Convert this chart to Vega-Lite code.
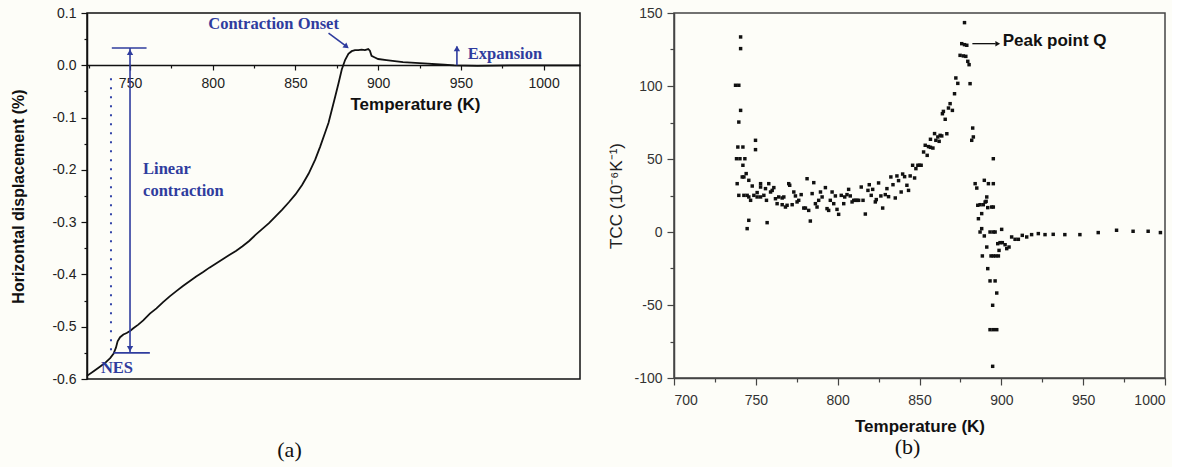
{
  "$schema": "https://vega.github.io/schema/vega-lite/v6.json",
  "background": "#fdfdf8",
  "padding": {"left": 10, "top": 5, "right": 5, "bottom": 5},
  "bounds": "flush",
  "spacing": 94,
  "config": {"font": "Liberation Sans", "view": {"stroke": null}},
  "datasets": {
    "curve": [
      {"T":724,"V":-0.594},{"T":728,"V":-0.585},{"T":732,"V":-0.576},{"T":735,"V":-0.569},{"T":738,"V":-0.56},{"T":740,"V":-0.552},{"T":741.5,"V":-0.54},{"T":742.5,"V":-0.528},{"T":744,"V":-0.52},{"T":746,"V":-0.515},{"T":748,"V":-0.512},{"T":750,"V":-0.508},{"T":752,"V":-0.503},{"T":755,"V":-0.496},{"T":758,"V":-0.488},{"T":762,"V":-0.475},{"T":766,"V":-0.465},{"T":770,"V":-0.453},{"T":774,"V":-0.442},{"T":778,"V":-0.432},{"T":782,"V":-0.422},{"T":786,"V":-0.413},{"T":790,"V":-0.404},{"T":794,"V":-0.396},{"T":798,"V":-0.387},{"T":802,"V":-0.379},{"T":806,"V":-0.371},{"T":810,"V":-0.363},{"T":814,"V":-0.355},{"T":818,"V":-0.346},{"T":822,"V":-0.336},{"T":826,"V":-0.324},{"T":830,"V":-0.313},{"T":834,"V":-0.302},{"T":838,"V":-0.289},{"T":842,"V":-0.276},{"T":846,"V":-0.262},{"T":850,"V":-0.247},{"T":854,"V":-0.229},{"T":858,"V":-0.207},{"T":862,"V":-0.18},{"T":865,"V":-0.155},{"T":868,"V":-0.128},{"T":870,"V":-0.11},{"T":872,"V":-0.085},{"T":874,"V":-0.06},{"T":876,"V":-0.035},{"T":878,"V":-0.008},{"T":880,"V":0.01},{"T":882,"V":0.022},{"T":884,"V":0.027},{"T":886,"V":0.029},{"T":888,"V":0.029},{"T":890,"V":0.03},{"T":892,"V":0.029},{"T":894,"V":0.031},{"T":895,"V":0.028},{"T":896,"V":0.018},{"T":898,"V":0.015},{"T":900,"V":0.012},{"T":905,"V":0.01},{"T":910,"V":0.008},{"T":915,"V":0.006},{"T":920,"V":0.005},{"T":925,"V":0.004},{"T":930,"V":0.003},{"T":935,"V":0.002},{"T":940,"V":0.001},{"T":946,"V":0.0},{"T":960,"V":-0.001},{"T":980,"V":0.0},{"T":1000,"V":0.0},{"T":1022,"V":0.0}
    ],
    "tcc": [
      {"T":740.7,"V":133.6},{"T":740.7,"V":125.6},{"T":737.6,"V":100.5},{"T":739.6,"V":100.5},{"T":740.7,"V":83.3},{"T":739.6,"V":75.3},{"T":749.8,"V":62.8},{"T":749.8,"V":56.4},{"T":739.0,"V":58.2},{"T":742.1,"V":58.2},{"T":738.2,"V":50.2},{"T":740.3,"V":50.2},{"T":743.3,"V":50.2},{"T":742.1,"V":45.7},{"T":744.1,"V":40.0},{"T":741.7,"V":37.7},{"T":742.7,"V":37.7},{"T":738.6,"V":33.1},{"T":745.7,"V":35.4},{"T":747.8,"V":31.5},{"T":752.9,"V":33.1},{"T":752.9,"V":30.8},{"T":755.9,"V":29.7},{"T":757.9,"V":33.1},{"T":761.0,"V":30.4},{"T":739.6,"V":25.1},{"T":742.7,"V":25.1},{"T":744.7,"V":25.1},{"T":745.7,"V":24.0},{"T":746.8,"V":21.7},{"T":748.8,"V":25.1},{"T":750.8,"V":27.0},{"T":750.8,"V":24.0},{"T":752.9,"V":24.0},{"T":754.9,"V":25.1},{"T":756.5,"V":21.7},{"T":759.0,"V":27.4},{"T":760.0,"V":28.5},{"T":762.0,"V":22.8},{"T":763.0,"V":19.4},{"T":764.0,"V":24.0},{"T":766.1,"V":23.3},{"T":767.1,"V":24.0},{"T":766.1,"V":18.7},{"T":768.1,"V":17.1},{"T":769.1,"V":18.3},{"T":770.1,"V":33.1},{"T":770.7,"V":32.0},{"T":772.2,"V":18.7},{"T":773.2,"V":27.4},{"T":774.2,"V":24.7},{"T":775.2,"V":20.6},{"T":776.2,"V":21.7},{"T":777.7,"V":25.6},{"T":779.3,"V":16.4},{"T":780.3,"V":16.4},{"T":781.3,"V":36.5},{"T":782.3,"V":14.8},{"T":783.3,"V":7.5},{"T":784.4,"V":26.3},{"T":785.4,"V":33.8},{"T":786.4,"V":19.4},{"T":787.4,"V":17.1},{"T":788.4,"V":21.7},{"T":789.5,"V":27.4},{"T":790.5,"V":24.0},{"T":792.5,"V":30.4},{"T":793.5,"V":16.0},{"T":794.5,"V":14.8},{"T":745.7,"V":8.0},{"T":744.7,"V":2.3},{"T":756.9,"V":6.4},
      {"T":795.5,"V":21.7},{"T":796.6,"V":27.4},{"T":797.6,"V":19.4},{"T":798.6,"V":24.7},{"T":799.6,"V":15.5},{"T":800.6,"V":12.1},{"T":802.2,"V":25.1},{"T":803.7,"V":19.4},{"T":804.3,"V":24.0},{"T":805.7,"V":25.6},{"T":806.7,"V":29.2},{"T":807.7,"V":24.7},{"T":808.8,"V":20.6},{"T":809.8,"V":21.7},{"T":810.8,"V":21.7},{"T":811.8,"V":21.7},{"T":812.8,"V":21.7},{"T":814.4,"V":30.8},{"T":815.5,"V":21.7},{"T":816.9,"V":12.3},{"T":818.5,"V":28.5},{"T":819.3,"V":32.4},{"T":820.5,"V":25.1},{"T":821.4,"V":29.2},{"T":823.0,"V":20.6},{"T":823.6,"V":22.2},{"T":825.0,"V":33.6},{"T":826.4,"V":24.7},{"T":827.5,"V":16.4},{"T":829.1,"V":25.6},{"T":830.1,"V":29.7},{"T":831.1,"V":24.2},{"T":832.5,"V":37.7},{"T":833.8,"V":32.4},{"T":835.2,"V":23.3},{"T":836.2,"V":38.4},{"T":837.2,"V":35.2},{"T":838.8,"V":27.4},{"T":839.7,"V":39.7},{"T":840.9,"V":37.9},{"T":842.3,"V":32.0},{"T":843.3,"V":28.5},{"T":844.3,"V":38.4},{"T":845.8,"V":45.7},{"T":847.0,"V":37.0},{"T":847.8,"V":43.4},{"T":849.0,"V":45.7},{"T":850.0,"V":45.7},{"T":851.0,"V":45.7},{"T":852.5,"V":54.8},{"T":853.5,"V":59.4},{"T":854.7,"V":52.5},{"T":855.5,"V":58.5},{"T":856.7,"V":58.0},{"T":858.2,"V":57.5},{"T":856.7,"V":63.5},{"T":859.2,"V":67.4},{"T":860.0,"V":62.8},{"T":861.2,"V":65.1},
      {"T":877.5,"V":143.4},{"T":875.8,"V":129.0},{"T":877.5,"V":128.3},{"T":878.9,"V":127.9},{"T":874.8,"V":121.0},{"T":876.8,"V":120.6},{"T":878.3,"V":120.3},{"T":879.5,"V":116.9},{"T":880.3,"V":114.6},{"T":872.2,"V":105.5},{"T":873.4,"V":101.8},{"T":880.9,"V":101.6},{"T":871.4,"V":94.7},{"T":868.7,"V":87.9},{"T":867.7,"V":84.9},{"T":870.1,"V":83.3},{"T":864.0,"V":81.0},{"T":865.7,"V":77.2},{"T":864.6,"V":82.6},{"T":882.5,"V":71.2},{"T":882.9,"V":65.1},{"T":881.9,"V":62.8},{"T":866.7,"V":67.3},{"T":862.6,"V":66.2},{"T":863.6,"V":65.8},{"T":862.0,"V":62.1},
      {"T":895.1,"V":50.2},{"T":884.0,"V":33.1},{"T":885.0,"V":30.1},{"T":889.6,"V":35.4},{"T":892.1,"V":33.1},{"T":895.1,"V":33.1},{"T":891.1,"V":24.0},{"T":890.1,"V":20.5},{"T":889.0,"V":18.7},{"T":894.1,"V":17.1},{"T":895.1,"V":17.1},{"T":887.0,"V":18.7},{"T":888.0,"V":12.6},{"T":886.0,"V":9.1},{"T":885.6,"V":18.3},{"T":890.7,"V":21.0},{"T":891.7,"V":16.7},
      {"T":887.0,"V":0.0},{"T":888.0,"V":2.3},{"T":889.6,"V":-2.7},{"T":893.1,"V":0.0},{"T":895.1,"V":0.0},{"T":896.2,"V":0.0},{"T":900.2,"V":1.8},{"T":891.1,"V":-10.3},{"T":888.4,"V":-16.4},{"T":893.7,"V":-16.4},{"T":895.1,"V":-16.4},{"T":896.6,"V":-16.4},{"T":898.2,"V":-16.4},{"T":891.7,"V":-25.1},{"T":893.1,"V":-33.5},{"T":896.2,"V":-33.5},{"T":897.2,"V":-41.8},{"T":894.7,"V":-50.2},{"T":893.1,"V":-66.9},{"T":895.1,"V":-66.9},{"T":897.2,"V":-66.9},{"T":894.7,"V":-92.0},{"T":897.8,"V":-8.0},{"T":899.2,"V":-7.3},{"T":900.6,"V":-7.3},{"T":902.3,"V":-8.7},{"T":898.6,"V":-12.6},{"T":903.3,"V":-11.4},{"T":904.7,"V":-10.3},{"T":906.3,"V":-3.4},{"T":908.4,"V":-5.0},{"T":910.4,"V":-5.0},{"T":912.8,"V":-2.3},{"T":915.5,"V":-3.4},{"T":918.5,"V":-1.8},{"T":922.6,"V":-1.1},{"T":926.7,"V":-1.8},{"T":931.7,"V":-1.6},{"T":938.8,"V":-1.8},{"T":948.0,"V":-1.8},{"T":959.2,"V":-0.4},{"T":970.4,"V":1.2},{"T":980.5,"V":0.5},{"T":989.7,"V":0.5},{"T":997.2,"V":-0.4}
    ],
    "segA": [
      {"T":750,"V":0.033,"T2":750,"V2":-0.55},
      {"T":739,"V":0.033,"T2":760,"V2":0.033},
      {"T":740,"V":-0.55,"T2":762,"V2":-0.55},
      {"T":947.6,"V":0.0,"T2":947.6,"V2":0.036},
      {"T":870,"V":0.0615,"T2":880,"V2":0.038}
    ],
    "headA": [
      {"T":750,"V":0.025,"shape":"triangle-up","angle":0},
      {"T":750,"V":-0.542,"shape":"triangle-down","angle":0},
      {"T":947.6,"V":0.032,"shape":"triangle-up","angle":0},
      {"T":880.9,"V":0.0356,"shape":"triangle-up","angle":128}
    ],
    "textA": [
      {"T":797.3,"V":0.079,"label":"Contraction Onset"},
      {"T":757.9,"V":-0.198,"label":"Linear"},
      {"T":757.9,"V":-0.24,"label":"contraction"},
      {"T":732.4,"V":-0.579,"label":"NES"},
      {"T":954.2,"V":0.021,"label":"Expansion"}
    ]
  },
  "hconcat": [
    {
      "width": 493,
      "height": 366,
      "view": {"stroke": "#111", "strokeWidth": 1.5},
      "title": {"text": "(a)", "orient": "bottom", "anchor": "middle", "font": "Liberation Serif", "fontSize": 22, "fontWeight": "normal", "color": "#111", "dx": -44, "offset": 54},
      "encoding": {
        "x": {"field": "T", "type": "quantitative",
          "scale": {"domain": [724, 1022], "nice": false, "zero": false},
          "axis": {"orient": "bottom", "offset": -314, "grid": false,
            "values": [725,750,775,800,825,850,875,900,925,950,975,1000],
            "labelExpr": "datum.value % 50 === 0 ? format(datum.value, 'd') : ''",
            "labelOverlap": false,
            "tickSize": {"condition": {"test": "datum.value % 50 === 0", "value": 5}, "value": 3},
            "domainColor": "#111", "domainWidth": 1.5, "tickColor": "#111", "tickWidth": 1.2,
            "labelFont": "Liberation Sans", "labelFontSize": 14, "labelColor": "#222", "labelPadding": 6,
            "title": "Temperature (K)", "titleFont": "Liberation Sans", "titleFontSize": 17, "titleFontWeight": "bold", "titleColor": "#111",
            "titleX": 328, "titleY": 39, "titleBaseline": "middle", "titleAlign": "center"}},
        "y": {"field": "V", "type": "quantitative",
          "scale": {"domain": [-0.6, 0.1], "nice": false, "zero": false},
          "axis": {"grid": false,
            "values": [-0.6,-0.55,-0.5,-0.45,-0.4,-0.35,-0.3,-0.25,-0.2,-0.15,-0.1,-0.05,0,0.05,0.1],
            "labelExpr": "abs(round(datum.value*100)) % 10 === 0 ? replace(format(datum.value, '.1f'), '\u2212', '-') : ''",
            "labelOverlap": false,
            "tickSize": {"condition": {"test": "abs(round(datum.value*100)) % 10 === 0", "value": 6}, "value": 3},
            "domainColor": "#111", "domainWidth": 1.5, "tickColor": "#111", "tickWidth": 1.2,
            "labelFont": "Liberation Sans", "labelFontSize": 14, "labelColor": "#222", "labelPadding": 5,
            "title": "Horizontal displacement (%)", "titleFont": "Liberation Sans", "titleFontSize": 16, "titleFontWeight": "bold", "titleColor": "#111", "titlePadding": 25}}
      },
      "layer": [
        {"data": {"name": "curve"}, "mark": {"type": "line", "color": "#111", "strokeWidth": 1.8}},
        {"data": {"values": [{"T": 738.5, "V": -0.025, "V2": -0.556}]},
         "mark": {"type": "rule", "color": "#3344a8", "strokeWidth": 2, "strokeDash": [2, 7]},
         "encoding": {"y2": {"field": "V2"}}},
        {"data": {"name": "segA"}, "mark": {"type": "rule", "color": "#2f3c9e", "strokeWidth": 1.6},
         "encoding": {"x2": {"field": "T2"}, "y2": {"field": "V2"}}},
        {"data": {"name": "headA"}, "mark": {"type": "point", "filled": true, "color": "#2f3c9e", "size": 40, "opacity": 1},
         "encoding": {"shape": {"field": "shape", "type": "nominal", "scale": null},
                      "angle": {"field": "angle", "type": "quantitative", "scale": null}}},
        {"data": {"name": "textA"}, "mark": {"type": "text", "align": "left", "baseline": "middle", "font": "Liberation Serif", "fontWeight": "bold", "fontSize": 16.5, "color": "#2f3c9e"},
         "encoding": {"text": {"field": "label"}}}
      ]
    },
    {
      "width": 491,
      "height": 365,
      "view": {"stroke": "#444", "strokeWidth": 1.5},
      "title": {"text": "(b)", "orient": "bottom", "anchor": "middle", "font": "Liberation Serif", "fontSize": 22, "fontWeight": "normal", "color": "#111", "dx": -12, "offset": 3},
      "encoding": {
        "x": {"field": "T", "type": "quantitative",
          "scale": {"domain": [700, 1000], "nice": false, "zero": false},
          "axis": {"grid": false,
            "values": [700,725,750,775,800,825,850,875,900,925,950,975,1000],
            "labelExpr": "datum.value % 50 === 0 ? format(datum.value, 'd') : ''",
            "labelOverlap": false,
            "tickSize": {"condition": {"test": "datum.value % 50 === 0", "value": 7}, "value": 4},
            "domainColor": "#444", "domainWidth": 1.5, "tickColor": "#444", "tickWidth": 1.2,
            "labelFont": "Liberation Sans", "labelFontSize": 14, "labelColor": "#333", "labelPadding": 8,
            "title": "Temperature (K)", "titleFont": "Liberation Sans", "titleFontSize": 17, "titleFontWeight": "bold", "titleColor": "#111", "titlePadding": 11}},
        "y": {"field": "V", "type": "quantitative",
          "scale": {"domain": [-100, 150], "nice": false, "zero": false},
          "axis": {"grid": false,
            "values": [-100,-75,-50,-25,0,25,50,75,100,125,150],
            "labelExpr": "datum.value % 50 === 0 ? replace(format(datum.value, 'd'), '\u2212', '-') : ''",
            "labelOverlap": false,
            "tickSize": {"condition": {"test": "datum.value % 50 === 0", "value": 7}, "value": 4},
            "domainColor": "#444", "domainWidth": 1.5, "tickColor": "#444", "tickWidth": 1.2,
            "labelFont": "Liberation Sans", "labelFontSize": 14, "labelColor": "#333", "labelPadding": 5,
            "title": "TCC (10\u207b\u2076K\u207b\u00b9)", "titleFont": "Liberation Sans", "titleFontSize": 17, "titleFontWeight": "normal", "titleColor": "#222", "titlePadding": 8}}
      },
      "layer": [
        {"data": {"name": "tcc"}, "mark": {"type": "point", "shape": "square", "filled": true, "color": "#111", "size": 12, "opacity": 1}},
        {"data": {"values": [{"T": 882.3, "V": 129.0, "T2": 896.5}]},
         "mark": {"type": "rule", "color": "#111", "strokeWidth": 1.3},
         "encoding": {"x2": {"field": "T2"}}},
        {"data": {"values": [{"T": 897.8, "V": 129.0}]},
         "mark": {"type": "point", "shape": "triangle-right", "filled": true, "color": "#111", "size": 30, "opacity": 1}},
        {"data": {"values": [{"T": 900.8, "V": 130.5, "label": "Peak point Q"}]},
         "mark": {"type": "text", "align": "left", "baseline": "middle", "font": "Liberation Sans", "fontWeight": "bold", "fontSize": 17, "color": "#111"},
         "encoding": {"text": {"field": "label"}}}
      ]
    }
  ]
}
